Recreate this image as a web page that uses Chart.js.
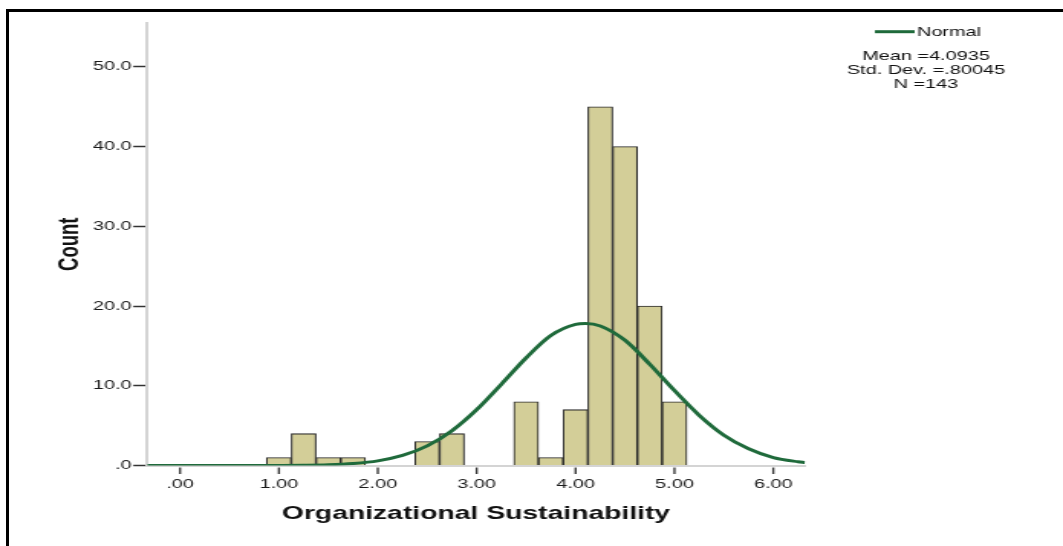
<!DOCTYPE html>
<html>
<head>
<meta charset="utf-8">
<script src="https://cdn.jsdelivr.net/npm/chart.js@4.4.1/dist/chart.umd.min.js"></script>
<style>
  html, body { margin: 0; padding: 0; background: #fff; overflow: hidden; }
  #wrap { position: relative; width: 1063px; height: 546px; }
  #c { position: absolute; left: 0; top: 0; }
  #frame { position: absolute; left: 6px; top: 9px; width: 1100px; height: 600px;
           border-top: 3px solid #000; border-left: 3px solid #000; }
</style>
</head>
<body>
<div id="wrap">
  <canvas id="c" width="695" height="546" style="width:1063px;height:546px"></canvas>
  <div id="frame"></div>
</div>
<script>
// histogram bins (centre of each bin) and counts
const binCenters = [1.00, 1.25, 1.50, 1.75, 2.50, 2.75, 3.50, 3.75, 4.00, 4.25, 4.50, 4.75, 5.00];
const binCounts  = [1, 4, 1, 1, 3, 4, 8, 1, 7, 45, 40, 20, 8];

// normal curve
const curveX = [-0.33, 0, 0.5, 1.0, 1.25, 1.5, 1.75, 2.0, 2.25, 2.5, 2.75, 3.0, 3.25, 3.5, 3.75,
                4.0, 4.1, 4.25, 4.5, 4.75, 5.0, 5.25, 5.5, 5.75, 6.0, 6.25, 6.32];
const curveY = [0, 0, 0, 0.01, 0.03, 0.09, 0.25, 0.58, 1.26, 2.46, 4.36, 7.0, 10.2, 13.5, 16.3,
                17.7, 17.8, 17.5, 15.7, 12.7, 9.4, 6.3, 3.8, 2.1, 1.0, 0.47, 0.37];

const xTicks = [0, 1, 2, 3, 4, 5, 6];
const xTickLabels = ['.00', '1.00', '2.00', '3.00', '4.00', '5.00', '6.00'];
const yTicks = [0, 10, 20, 30, 40, 50];
const yTickLabels = ['.0', '10.0', '20.0', '30.0', '40.0', '50.0'];

const legendLabel = 'Normal';
const statsLines = ['Mean =4.0935', 'Std. Dev. =.80045', 'N =143'];

const green = '#1f6a3b';
const font = '"Liberation Sans", Arial, sans-serif';

// extra bits: x tick marks (with the small gap) and the legend box on the right
const extras = {
  id: 'extras',
  afterDraw(chart) {
    const ctx = chart.ctx;
    const xs = chart.scales.x;
    const area = chart.chartArea;
    ctx.save();
    ctx.strokeStyle = '#3a3a3a';
    ctx.lineWidth = 1.4;
    xTicks.forEach(v => {
      const px = xs.getPixelForValue(v);
      ctx.beginPath();
      ctx.moveTo(px, area.bottom + 2);
      ctx.lineTo(px, area.bottom + 8.5);
      ctx.stroke();
    });

    ctx.strokeStyle = green;
    ctx.lineWidth = 3;
    ctx.beginPath();
    ctx.moveTo(572, 31.7);
    ctx.lineTo(598, 31.7);
    ctx.stroke();

    ctx.fillStyle = '#111';
    ctx.font = '13px ' + font;
    ctx.textBaseline = 'middle';
    ctx.textAlign = 'left';
    ctx.fillText(legendLabel, 599.5, 32);
    ctx.textAlign = 'center';
    statsLines.forEach((s, i) => ctx.fillText(s, 605.4, 56 + i * 14.2));
    ctx.restore();
  }
};

new Chart(document.getElementById('c'), {
  data: {
    datasets: [
      {
        type: 'line',
        label: legendLabel,
        data: curveX.map((x, i) => ({ x: x, y: curveY[i] })),
        borderColor: green,
        borderWidth: 3,
        pointRadius: 0,
        cubicInterpolationMode: 'monotone',
        fill: false,
        order: 0
      },
      {
        type: 'bar',
        label: 'Count',
        data: binCenters.map((x, i) => ({ x: x, y: binCounts[i] })),
        backgroundColor: '#d3ce98',
        borderColor: '#2b2b2b',
        borderWidth: 1.1,
        barPercentage: 1,
        categoryPercentage: 1,
        order: 1
      }
    ]
  },
  options: {
    responsive: false,
    devicePixelRatio: 1,
    animation: false,
    events: [],
    layout: { padding: { left: 30.7, right: 168.7, top: 23, bottom: 0 } },
    plugins: {
      legend: { display: false },
      tooltip: { enabled: false }
    },
    scales: {
      x: {
        type: 'linear',
        offset: false,
        min: -0.334,
        max: 6.32,
        afterBuildTicks: s => { s.ticks = xTicks.map(v => ({ value: v })); },
        afterFit: s => { s.height = 80.5; },
        grid: { offset: false, drawOnChartArea: false, drawTicks: true, tickLength: 9, tickColor: 'rgba(0,0,0,0)' },
        border: { display: true, color: '#d4d4d4', width: 2 },
        ticks: {
          padding: 2,
          maxRotation: 0,
          color: '#1a1a1a',
          font: { family: font, size: 13 },
          callback: (v, i) => xTickLabels[i]
        },
        title: {
          display: true,
          text: 'Organizational Sustainability',
          color: '#111',
          font: { family: font, size: 18.5, weight: 'bold' },
          padding: { top: 0, bottom: 20.9 }
        }
      },
      y: {
        min: 0,
        max: 55.5,
        afterBuildTicks: s => { s.ticks = yTicks.map(v => ({ value: v })); },
        afterFit: s => { s.width = 96.1 - 30.7; },
        grid: { drawOnChartArea: false, drawTicks: true, tickLength: 9, tickColor: '#333', tickWidth: 1.5 },
        border: { display: true, color: '#d4d4d4', width: 2 },
        ticks: {
          padding: 1,
          color: '#1a1a1a',
          font: { family: font, size: 13 },
          callback: (v, i) => yTickLabels[i]
        },
        title: {
          display: true,
          text: 'Count',
          color: '#111',
          font: { family: font, size: 18.5, weight: 'bold' },
          padding: { top: 4, bottom: 4 }
        }
      }
    }
  },
  plugins: [extras]
});
</script>
</body>
</html>
